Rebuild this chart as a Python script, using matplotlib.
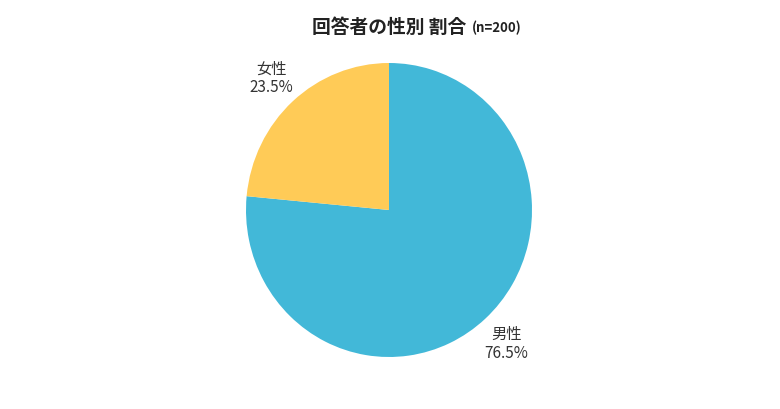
import matplotlib
matplotlib.use("Agg")
import matplotlib.pyplot as plt

plt.rcParams['font.family'] = ['Noto Sans CJK JP', 'DejaVu Sans']

# データ
labels = ['男性', '女性']
shares = [76.5, 23.5]
colors = ['#42B8D8', '#FFCB57']
title = '回答者の性別 割合'
subtitle = '(n=200)'

fig = plt.figure(figsize=(7.8, 4.1), dpi=100)
fig.patch.set_facecolor('white')

# 中心 (389, 211), 半径 横143 / 縦147 px (元画像は少し縦長)
cx, cy, rx, ry = 389, 211, 143, 147
W, H = 780, 410
ax = fig.add_axes([(cx - rx) / W, (H - cy - ry) / H, 2 * rx / W, 2 * ry / H])

texts = [f'{l}\n{v:.1f}%' for l, v in zip(labels, shares)]
ax.pie(shares, labels=texts, colors=colors, startangle=90, counterclock=False,
       radius=1.0, labeldistance=1.22,
       wedgeprops=dict(linewidth=0),
       textprops=dict(ha='center', va='center', multialignment='center',
                      fontsize=11, color='#333333', linespacing=1.15))
ax.set_xlim(-1, 1)
ax.set_ylim(-1, 1)
ax.set_aspect('auto')
ax.axis('off')

fig.text(466 / W, 1 - 27 / H, title, ha='right', va='center',
         fontsize=13.5, fontweight='bold', color='#222222')
fig.text(472 / W, 1 - 28 / H, subtitle, ha='left', va='center',
         fontsize=9.5, fontweight='bold', color='#222222')

fig.savefig('out.png', dpi=100)
